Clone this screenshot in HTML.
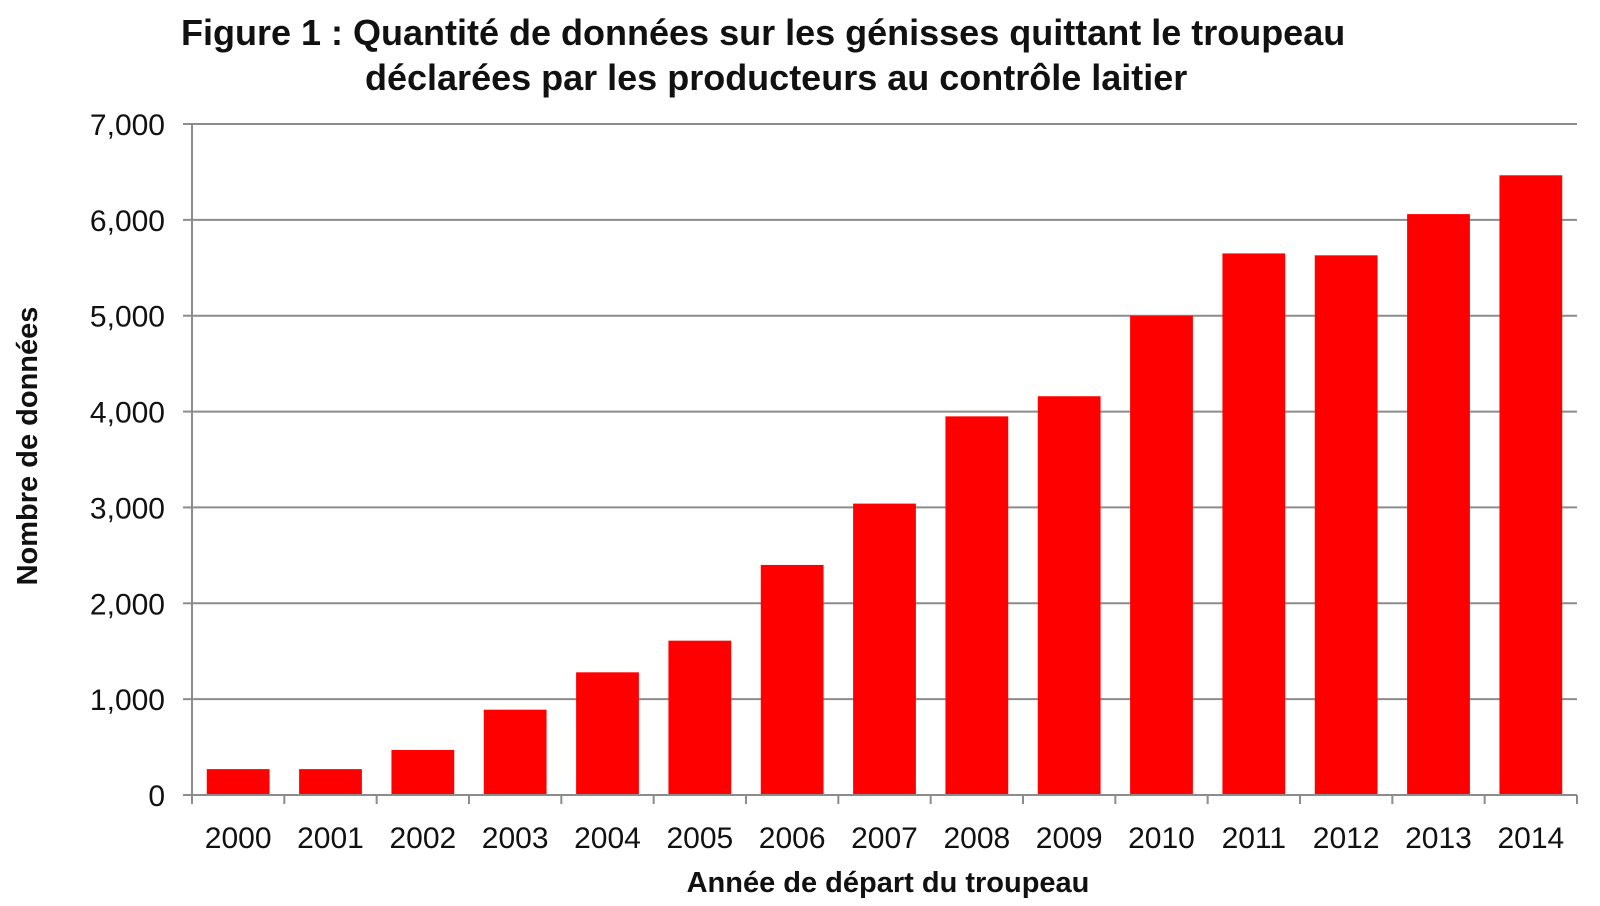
<!DOCTYPE html>
<html><head><meta charset="utf-8"><style>
html,body{margin:0;padding:0;background:#fff;width:1600px;height:906px;overflow:hidden}
svg text{font-family:"Liberation Sans",Arial,sans-serif;fill:#111}
</style></head><body>
<svg id="chart" width="1600" height="906" xmlns="http://www.w3.org/2000/svg">
<text x="181" y="45" font-size="36" font-weight="bold">Figure 1 : Quantité de données sur les génisses quittant le troupeau</text>
<text x="365" y="90" font-size="36" font-weight="bold">déclarées par les producteurs au contrôle laitier</text>
<text transform="translate(37,446) rotate(-90)" text-anchor="middle" font-size="29" font-weight="bold">Nombre de données</text>
<text x="888" y="892" text-anchor="middle" font-size="29" font-weight="bold">Année de départ du troupeau</text>
<g id="grid"></g><g id="bars"></g><g id="axes"></g>
</svg>
<script>
const categories=["2000","2001","2002","2003","2004","2005","2006","2007","2008","2009","2010","2011","2012","2013","2014"];
const values=[270,270,470,890,1280,1610,2400,3040,3950,4160,5000,5650,5630,6060,6465];
const yTicks=[0,1000,2000,3000,4000,5000,6000,7000];
const yTickLabels=["0","1,000","2,000","3,000","4,000","5,000","6,000","7,000"];
const NS="http://www.w3.org/2000/svg";
const X0=192,X1=1577,Y0=795,Y1=124,YMAX=7000;
const band=(X1-X0)/categories.length;
function yScale(v){return Y0-(v/YMAX)*(Y0-Y1);}
function xScale(i){return X0+band*i;}
function mk(tag,attrs,parent){const e=document.createElementNS(NS,tag);for(const k in attrs)e.setAttribute(k,attrs[k]);parent.appendChild(e);return e;}
const grid=document.getElementById('grid'),bars=document.getElementById('bars'),axes=document.getElementById('axes');
yTicks.forEach((t,i)=>{
  const y=yScale(t);
  if(t>0){const g=mk('line',{x1:X0,x2:X1,y1:y,y2:y,stroke:'#8c8c8c','stroke-width':2},grid);
    
    }
  const tk=mk('line',{x1:X0-9,x2:X0,y1:y,y2:y,stroke:'#8c8c8c','stroke-width':2},axes);
  
  
  const tx=mk('text',{x:X0-27,y:y+11,'text-anchor':'end','font-size':30},axes);
  tx.textContent=yTickLabels[i];
  
  
});
categories.forEach((c,i)=>{
  const bw=band*0.68,x=xScale(i)+(band-bw)/2,y=yScale(values[i]);
  const r=mk('rect',{x:x,y:y,width:bw,height:Y0-y,fill:'#ff0000'},bars);
  
  
  const tk=mk('line',{x1:xScale(i),x2:xScale(i),y1:Y0,y2:Y0+9,stroke:'#8c8c8c','stroke-width':2},axes);
  
  
  const tx=mk('text',{x:xScale(i)+band/2,y:Y0+53,'text-anchor':'middle','font-size':30},axes);
  tx.textContent=c;
  
  
});
const lt=mk('line',{x1:X1,x2:X1,y1:Y0,y2:Y0+9,stroke:'#8c8c8c','stroke-width':2},axes);


const ya=mk('line',{x1:X0,x2:X0,y1:Y1,y2:Y0+9,stroke:'#8c8c8c','stroke-width':2},axes);


const xa=mk('line',{x1:X0,x2:X1,y1:Y0,y2:Y0,stroke:'#8c8c8c','stroke-width':2},axes);


</script>
</body></html>
